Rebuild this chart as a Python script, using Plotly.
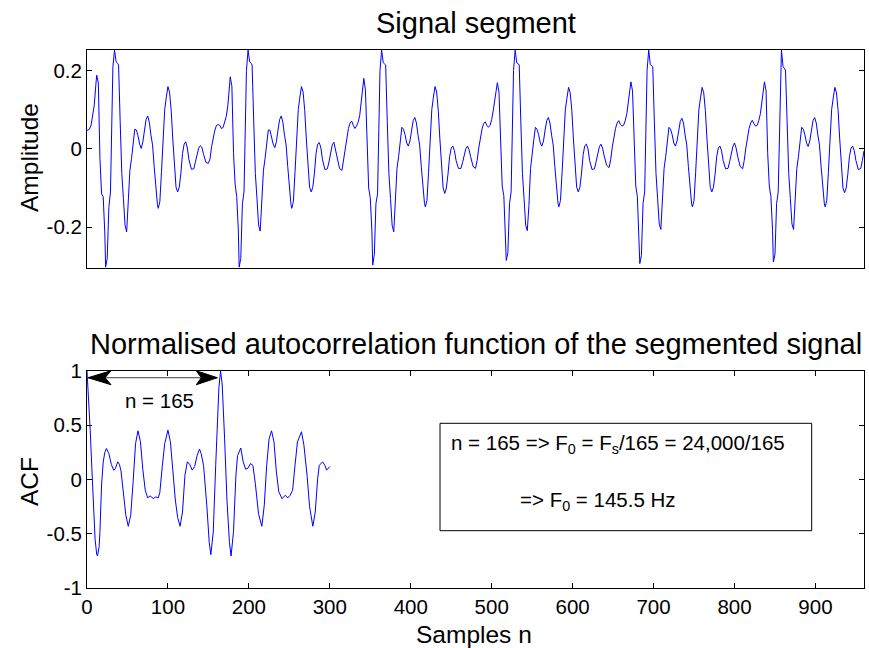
import plotly.graph_objects as go

# ---------------- data ----------------
# Signal segment (sample index n, amplitude)
signal_n = [
    0, 3, 5, 7, 9, 11, 12, 14, 16, 18, 20, 22, 23, 25, 27, 29, 32,
    34, 36, 38, 39, 41, 43, 45, 47, 49, 51, 53, 55, 57, 59, 61, 63, 65, 67, 69, 71, 73, 75, 77, 79, 81, 83, 85, 87, 88, 90,
    92, 94, 96, 98, 100, 102, 104, 106, 108, 110, 112, 114, 116, 118, 120, 122, 124, 126, 129, 132, 134, 136, 138, 140,
    142, 144, 147, 150, 152, 154, 156, 158, 160, 162, 164, 166, 168, 170, 172, 174, 176, 177, 179, 181, 183, 185, 187,
    188, 190, 192, 194, 197,
    199, 201, 203, 204, 206, 208, 210, 212, 214, 216, 218, 220, 222, 224, 226, 228, 230, 232, 234, 236, 238, 240, 242,
    244, 246, 248, 250, 252, 253, 255, 257, 259, 261, 263, 265, 267, 269, 271, 273, 275, 277, 279, 281, 283, 285, 287,
    289, 291, 294, 297, 299, 301, 303, 305, 307, 309, 312, 315, 317, 319, 321, 323, 325, 327, 329, 331, 333, 335, 337,
    339, 341, 342, 344, 346, 348, 350, 352, 353, 355, 357, 359, 362,
    364, 366, 368, 369, 371, 373, 375, 377, 379, 381, 383, 385, 387, 389, 391, 393, 395, 397, 399, 401, 403, 405, 407,
    409, 411, 413, 415, 417, 418, 420, 422, 424, 426, 428, 430, 432, 434, 436, 438, 440, 442, 444, 446, 448, 450, 452,
    454, 456, 459, 462, 464, 466, 468, 470, 472, 474, 477, 480, 482, 484, 486, 488, 490, 492, 494, 496, 498, 500, 502,
    504, 506, 507, 509, 511, 513, 515, 517, 518, 520, 522, 524, 527,
    529, 531, 533, 534, 536, 538, 540, 542, 544, 546, 548, 550, 552, 554, 556, 558, 560, 562, 564, 566, 568, 570, 572,
    574, 576, 578, 580, 582, 583, 585, 587, 589, 591, 593, 595, 597, 599, 601, 603, 605, 607, 609, 611, 613, 615, 617,
    619, 621, 624, 627, 629, 631, 633, 635, 637, 639, 642, 645, 647, 649, 651, 653, 655, 657, 659, 661, 663, 665, 667,
    669, 671, 672, 674, 676, 678, 680, 682, 683, 685, 687, 689, 692,
    694, 696, 698, 699, 701, 703, 705, 707, 709, 711, 713, 715, 717, 719, 721, 723, 725, 727, 729, 731, 733, 735, 737,
    739, 741, 743, 745, 747, 748, 750, 752, 754, 756, 758, 760, 762, 764, 766, 768, 770, 772, 774, 776, 778, 780, 782,
    784, 786, 789, 792, 794, 796, 798, 800, 802, 804, 807, 810, 812, 814, 816, 818, 820, 822, 824, 826, 828, 830, 832,
    834, 836, 837, 839, 841, 843, 845, 847, 848, 850, 852, 854, 857,
    858, 860, 862, 863, 865, 867, 869, 871, 873, 875, 877, 879, 881, 883, 885, 887, 889, 891, 893, 895, 897, 899, 901,
    903, 905, 907, 909, 911, 912, 914, 916, 918, 920, 922, 924, 926, 928, 930, 932, 934, 936, 938, 940, 942, 944, 946,
    948, 950, 953, 956, 958, 960,
]
signal_amp = [
    0.047, 0.050, 0.060, 0.082, 0.112, 0.165, 0.188, 0.168, -0.025, -0.115, -0.122, -0.215, -0.302, -0.280, -0.150,
    -0.110, 0.210,
    # period 1
    0.252, 0.222, 0.218, 0.214, 0.069, -0.063, -0.127, -0.195, -0.212, -0.145,
    -0.055, -0.025, 0.018, 0.050, 0.048, 0.034, 0.012, 0.001, 0.018, 0.048,
    0.075, 0.084, 0.068, 0.035, 0.010, -0.045, -0.105, -0.142, -0.152, -0.135,
    -0.060, 0.035, 0.100, 0.132, 0.159, 0.145, 0.098, 0.025, -0.050, -0.098,
    -0.110, -0.098, -0.062, -0.012, 0.012, 0.018, 0.002, -0.028, -0.052, -0.051,
    -0.033, -0.012, 0.002, 0.008, 0.004, -0.014, -0.035, -0.037, -0.025, 0.006,
    0.032, 0.048, 0.060, 0.062, 0.060, 0.052, 0.054, 0.066, 0.082, 0.110,
    0.160, 0.184, 0.160, -0.010, -0.090, -0.122, -0.210, -0.302, -0.280, -0.140,
    -0.110, 0.200,
    # period 2
    0.252, 0.222, 0.218, 0.214, 0.069, -0.063, -0.127, -0.195, -0.210, -0.145,
    -0.055, -0.025, 0.018, 0.048, 0.048, 0.030, 0.012, 0.003, 0.018, 0.048,
    0.075, 0.084, 0.068, 0.035, 0.010, -0.045, -0.105, -0.142, -0.152, -0.135,
    -0.060, 0.035, 0.100, 0.132, 0.159, 0.145, 0.098, 0.025, -0.050, -0.098,
    -0.110, -0.098, -0.062, -0.012, 0.012, 0.016, 0.002, -0.028, -0.053, -0.051,
    -0.033, -0.008, 0.010, 0.017, 0.000, -0.025, -0.050, -0.055, -0.030, 0.002,
    0.030, 0.052, 0.066, 0.071, 0.060, 0.052, 0.058, 0.068, 0.086, 0.120,
    0.165, 0.180, 0.150, -0.010, -0.100, -0.125, -0.210, -0.297, -0.270, -0.140,
    -0.115, 0.200,
    # period 3
    0.252, 0.220, 0.217, 0.214, 0.069, -0.063, -0.127, -0.195, -0.212, -0.145,
    -0.050, -0.020, 0.022, 0.055, 0.050, 0.036, 0.015, 0.007, 0.020, 0.048,
    0.072, 0.080, 0.066, 0.035, 0.010, -0.045, -0.105, -0.140, -0.148, -0.132,
    -0.060, 0.035, 0.100, 0.132, 0.159, 0.145, 0.098, 0.025, -0.050, -0.100,
    -0.114, -0.100, -0.065, -0.020, 0.002, 0.007, -0.005, -0.030, -0.050, -0.050,
    -0.035, -0.015, 0.000, 0.007, -0.002, -0.020, -0.045, -0.050, -0.030, 0.002,
    0.030, 0.050, 0.064, 0.069, 0.060, 0.055, 0.060, 0.075, 0.099, 0.125,
    0.160, 0.169, 0.145, -0.010, -0.095, -0.120, -0.205, -0.285, -0.265, -0.140,
    -0.110, 0.200,
    # period 4
    0.252, 0.220, 0.217, 0.214, 0.069, -0.063, -0.127, -0.195, -0.209, -0.145,
    -0.050, -0.020, 0.022, 0.055, 0.050, 0.036, 0.015, 0.007, 0.020, 0.048,
    0.072, 0.080, 0.066, 0.035, 0.010, -0.045, -0.105, -0.140, -0.148, -0.132,
    -0.060, 0.035, 0.100, 0.130, 0.157, 0.143, 0.098, 0.025, -0.050, -0.098,
    -0.110, -0.098, -0.062, -0.015, 0.008, 0.012, 0.000, -0.030, -0.053, -0.051,
    -0.033, -0.010, 0.005, 0.012, 0.002, -0.018, -0.042, -0.048, -0.028, 0.004,
    0.032, 0.052, 0.066, 0.072, 0.062, 0.058, 0.060, 0.072, 0.090, 0.122,
    0.160, 0.171, 0.148, -0.010, -0.095, -0.122, -0.210, -0.293, -0.272, -0.140,
    -0.110, 0.200,
    # period 5
    0.252, 0.215, 0.212, 0.210, 0.069, -0.063, -0.127, -0.192, -0.206, -0.142,
    -0.050, -0.020, 0.022, 0.055, 0.050, 0.036, 0.015, 0.007, 0.020, 0.048,
    0.070, 0.078, 0.066, 0.035, 0.010, -0.045, -0.105, -0.140, -0.148, -0.132,
    -0.060, 0.035, 0.100, 0.130, 0.157, 0.143, 0.098, 0.025, -0.050, -0.098,
    -0.110, -0.098, -0.065, -0.020, 0.002, 0.007, -0.005, -0.030, -0.051, -0.050,
    -0.033, -0.010, 0.006, 0.015, 0.002, -0.020, -0.045, -0.051, -0.030, 0.002,
    0.032, 0.052, 0.066, 0.073, 0.064, 0.058, 0.060, 0.072, 0.090, 0.122,
    0.160, 0.171, 0.148, -0.010, -0.095, -0.122, -0.208, -0.289, -0.270, -0.140,
    -0.110, 0.200,
    # period 6 (partial)
    0.252, 0.210, 0.205, 0.201, 0.069, -0.063, -0.127, -0.192, -0.206, -0.142,
    -0.050, -0.020, 0.022, 0.055, 0.050, 0.036, 0.015, 0.006, 0.020, 0.048,
    0.072, 0.080, 0.066, 0.035, 0.010, -0.045, -0.105, -0.140, -0.148, -0.132,
    -0.060, 0.035, 0.100, 0.130, 0.157, 0.143, 0.098, 0.025, -0.050, -0.100,
    -0.112, -0.100, -0.065, -0.020, 0.002, 0.007, -0.005, -0.030, -0.053, -0.050,
    -0.030, -0.005,
]

# Normalised autocorrelation (lag, value)
acf_lag = [0, 2, 4, 6, 8, 10, 12, 13, 15, 16, 18, 20, 22, 24, 27, 30, 33, 35, 38, 40, 42, 45, 48, 51, 54, 57, 60,
           63, 66, 69, 72, 75, 78, 82, 85, 88, 90, 93, 96, 100, 103, 106, 109, 112, 115, 118, 121, 124, 127, 130,
           133, 136, 139, 141, 144, 148, 151, 153, 156, 159, 161, 163, 165, 167, 170, 173, 176, 178, 181, 184, 186,
           190, 193, 196, 199, 202, 205, 208, 212, 216, 219, 222, 225, 228, 231, 234, 237, 241, 245, 248, 251, 254,
           257, 260, 265, 268, 272, 275, 279, 282, 285, 287, 291, 294, 296, 300]
acf_val = [1.0, 0.76, 0.45, 0.10, -0.28, -0.55, -0.69, -0.705, -0.62, -0.48, -0.05, 0.16, 0.25, 0.286, 0.24, 0.14,
           0.086, 0.10, 0.163, 0.14, 0.08, -0.12, -0.33, -0.431, -0.33, -0.02, 0.33, 0.449, 0.35, 0.09, -0.10,
           -0.169, -0.151, -0.176, -0.16, -0.17, -0.12, 0.12, 0.33, 0.455, 0.35, 0.09, -0.18, -0.35, -0.431, -0.30,
           0.039, 0.163, 0.138, 0.086, 0.12, 0.22, 0.28, 0.24, 0.13, -0.236, -0.58, -0.693, -0.484, 0.13, 0.55,
           0.85, 1.0, 0.88, 0.38, -0.20, -0.58, -0.705, -0.48, 0.04, 0.22, 0.29, 0.163, 0.095, 0.105, 0.147, 0.13,
           -0.04, -0.32, -0.431, -0.24, 0.13, 0.377, 0.449, 0.347, 0.07, -0.114, -0.176, -0.145, -0.17, -0.145,
           -0.10, 0.13, 0.347, 0.44, 0.317, 0.03, -0.25, -0.431, -0.30, 0.01, 0.13, 0.163, 0.13, 0.086, 0.12]

# Axis ticks / ranges
top_yticks = [-0.2, 0, 0.2]
top_yticklabels = ["-0.2", "0", "0.2"]
top_yrange = [-0.3043, 0.2524]
bot_xticks = [0, 100, 200, 300, 400, 500, 600, 700, 800, 900]
bot_yticks = [-1, -0.5, 0, 0.5, 1]
bot_yticklabels = ["-1", "-0.5", "0", "0.5", "1"]
x_range = [0, 960]

# Annotation content
period_arrow_lags = [0, 161]
period_arrow_level = 0.938
period_label = "n = 165"
period_label_pos = (89, 0.726)
box_line1 = "n = 165 => F<sub>0</sub> = F<sub>s</sub>/165 = 24,000/165"
box_line2 = "=> F<sub>0</sub> = 145.5 Hz"

# ---------------- layout geometry (pixels) ----------------
W, H = 869, 648
L, R, T, B = 87, 5, 50, 60
PW, PH = W - L - R, H - T - B


def px(xpix):
    return (xpix - L) / PW


def py(ypix):
    return (H - B - ypix) / PH


FONT = "Liberation Sans, Arial, Helvetica, sans-serif"
BLUE = "#0000ff"
TICK_SIZE = 20.5
LABEL_SIZE = 24.5
TITLE_SIZE = 29
NOTE_SIZE = 20.5

fig = go.Figure()
fig.add_trace(go.Scatter(x=signal_n, y=signal_amp, mode="lines",
                         line=dict(color=BLUE, width=1), xaxis="x", yaxis="y",
                         showlegend=False, hoverinfo="skip"))
fig.add_trace(go.Scatter(x=acf_lag, y=acf_val, mode="lines",
                         line=dict(color=BLUE, width=1), xaxis="x2", yaxis="y2",
                         showlegend=False, hoverinfo="skip"))

axis_common = dict(showline=True, linecolor="black", linewidth=1, showgrid=False,
                   zeroline=False, tickcolor="black", tickwidth=1,
                   tickfont=dict(family=FONT, size=TICK_SIZE, color="black"))

fig.update_layout(
    width=W, height=H,
    margin=dict(l=L, r=R, t=T, b=B, pad=0),
    paper_bgcolor="white", plot_bgcolor="white",
    font=dict(family=FONT, color="black"),
    showlegend=False,
    xaxis=dict(domain=[0, 1], anchor="y", range=x_range, ticks="", showticklabels=False,
               mirror=True, **axis_common),
    yaxis=dict(domain=[py(268), 1], anchor="x", range=top_yrange, tickvals=top_yticks,
               ticktext=top_yticklabels, ticks="inside", ticklen=5, mirror="ticks", **axis_common),
    xaxis2=dict(domain=[0, 1], anchor="y2", range=x_range, tickvals=bot_xticks,
                ticktext=[str(v) for v in bot_xticks], ticks="inside", ticklen=5, mirror="ticks",
                **axis_common),
    yaxis2=dict(domain=[0, py(371)], anchor="x2", range=[-1, 1], tickvals=bot_yticks,
                ticktext=bot_yticklabels, ticks="inside", ticklen=5, mirror="ticks", **axis_common),
)

annotations = [
    dict(text="Signal segment", x=px(475.5), y=py(23), xref="paper", yref="paper",
         showarrow=False, xanchor="center", yanchor="middle", font=dict(size=TITLE_SIZE, family=FONT)),
    dict(text="Normalised autocorrelation function of the segmented signal", x=px(475.5), y=py(344),
         xref="paper", yref="paper", showarrow=False, xanchor="center", yanchor="middle",
         font=dict(size=TITLE_SIZE, family=FONT)),
    dict(text="Samples n", x=px(474), y=py(635), xref="paper", yref="paper", showarrow=False,
         xanchor="center", yanchor="middle", font=dict(size=LABEL_SIZE, family=FONT)),
    dict(text="Amplitude", x=px(29), y=py(158), xref="paper", yref="paper", showarrow=False,
         xanchor="center", yanchor="middle", textangle=-90, font=dict(size=LABEL_SIZE, family=FONT)),
    dict(text="ACF", x=px(29), y=py(482), xref="paper", yref="paper", showarrow=False,
         xanchor="center", yanchor="middle", textangle=-90, font=dict(size=LABEL_SIZE, family=FONT)),
    dict(text=period_label, x=period_label_pos[0], y=period_label_pos[1], xref="x2", yref="y2",
         showarrow=False, xanchor="center", yanchor="middle", font=dict(size=NOTE_SIZE, family=FONT)),
    dict(text=box_line1, x=px(617.5), y=py(444), xref="paper", yref="paper", showarrow=False,
         xanchor="center", yanchor="middle", font=dict(size=NOTE_SIZE, family=FONT)),
    dict(text=box_line2, x=px(597.5), y=py(501), xref="paper", yref="paper", showarrow=False,
         xanchor="center", yanchor="middle", font=dict(size=NOTE_SIZE, family=FONT)),
]

shapes = [
    # text box
    dict(type="rect", xref="paper", yref="paper", x0=px(440), x1=px(811.7), y0=py(530.7), y1=py(423.3),
         line=dict(color="black", width=1), fillcolor="rgba(0,0,0,0)"),
    # double arrow shaft
    dict(type="line", xref="x2", yref="y2", x0=period_arrow_lags[0], x1=period_arrow_lags[1],
         y0=period_arrow_level, y1=period_arrow_level, line=dict(color="#404040", width=1)),
    # arrow heads (pixel-sized, anchored at the data ends)
    dict(type="path", xref="x2", yref="y2", xsizemode="pixel", ysizemode="pixel",
         xanchor=period_arrow_lags[0], yanchor=period_arrow_level,
         path="M1,0 L24,7 L18,0 L24,-7 Z", fillcolor="black", line=dict(color="black", width=1)),
    dict(type="path", xref="x2", yref="y2", xsizemode="pixel", ysizemode="pixel",
         xanchor=period_arrow_lags[1], yanchor=period_arrow_level,
         path="M0,0 L-21,7 L-16,0 L-21,-7 Z", fillcolor="black", line=dict(color="black", width=1)),
]

fig.update_layout(annotations=annotations, shapes=shapes)
fig.write_html("out.html", config={"displayModeBar": False})
